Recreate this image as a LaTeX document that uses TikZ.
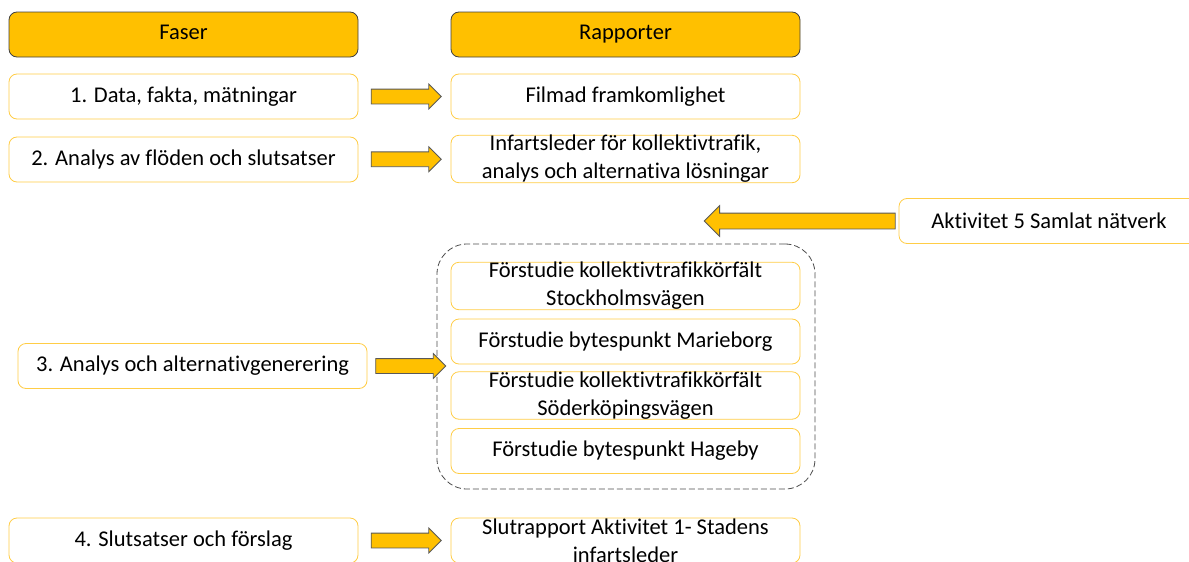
\documentclass[tikz,border=0pt]{standalone}
\usepackage{fontspec}
\setmainfont{Carlito}[Ligatures=NoCommon]
\usepackage{xcolor}
\usetikzlibrary{shapes.arrows, positioning}

\definecolor{gul}{RGB}{255,192,0}
\definecolor{ljusgul}{RGB}{255,205,70}
\definecolor{mork}{RGB}{64,64,64}

\begin{document}
\begin{tikzpicture}[x=1pt, y=-1pt,
        font=\fontsize{22.5}{28}\selectfont,
        rubrik/.style={draw=mork, fill=gul, rounded corners=8pt, line width=0.8pt,
            minimum width=349pt, minimum height=45pt, inner sep=0pt,
            text height=15pt, text depth=5pt},
        ruta/.style={draw=ljusgul, fill=white, rounded corners=8pt, line width=0.8pt,
            minimum width=349pt, minimum height=45pt, inner xsep=0pt, inner ysep=0pt, align=center},
        barrow/.style={single arrow, draw=black!65, fill=gul, line width=0.8pt,
            inner xsep=0pt, inner ysep=7pt, single arrow head extend=5pt, minimum height=70pt}]
        \useasboundingbox (0,0) rectangle (1189,562);
        \clip (0,0) rectangle (1189,562);
        % gruppen med förstudier
        \node[draw=black!70, dash pattern=on 6pt off 3pt, rounded corners=30pt, line width=0.8pt,
            minimum width=378pt, minimum height=245pt] (grp) at (626,366.5) {};
        % rubriker
        \node[rubrik] (fas0) at (183.5,34.5) {Faser};
        \node[rubrik] (rap0) at (625.5,34.5) {Rapporter};
        % faser
        \node[ruta] (fas1) at (183.5,96.5) {1. Data, fakta, mätningar};
        \node[ruta] (fas2) at (183.5,159.5) {2. Analys av flöden och slutsatser};
        \node[ruta] (fas3) at (192.5,366) {3. Analys och alternativgenerering};
        \node[ruta] (fas4) at (183.5,540.5) {4. Slutsatser och förslag};
        % rapporter
        \node[ruta] (rap1) at (625.5,96.5) {Filmad framkomlighet};
        \node[ruta] (rap2) at (625.5,159) {Infartsleder för kollektivtrafik,\\analys och alternativa lösningar};
        \node[ruta] (fs1) at (625.5,286) {Förstudie kollektivtrafikkörfält\\Stockholmsvägen};
        \node[ruta] (fs2) at (625.5,341.5) {Förstudie bytespunkt Marieborg};
        \node[ruta] (fs3) at (625.5,395.5) {Förstudie kollektivtrafikkörfält\\Söderköpingsvägen};
        \node[ruta] (fs4) at (625.5,451) {Förstudie bytespunkt Hageby};
        \node[ruta] (rap4) at (625.5,540.5) {Slutrapport Aktivitet 1- Stadens\\infartsleder};
        \node[ruta, minimum width=300pt] (akt) at (1049,221) {Aktivitet 5 Samlat nätverk};
        % pilar
        \path (fas1) -- (rap1) node[midway, barrow, xshift=-2pt] {};
        \path (fas2) -- (rap2) node[midway, barrow, xshift=-2pt] {};
        \path (fas3) -- (fas3 -| fs2.west) node[midway, barrow, xshift=-2pt] {};
        \path (fas4) -- (rap4) node[midway, barrow, xshift=-2pt] {};
        \node[barrow, shape border rotate=180, anchor=tail, inner ysep=7.5pt,
            single arrow head extend=7.5pt, minimum height=191pt] (pil5) at ([xshift=-3pt]akt.west) {};
\end{tikzpicture}
\end{document}
